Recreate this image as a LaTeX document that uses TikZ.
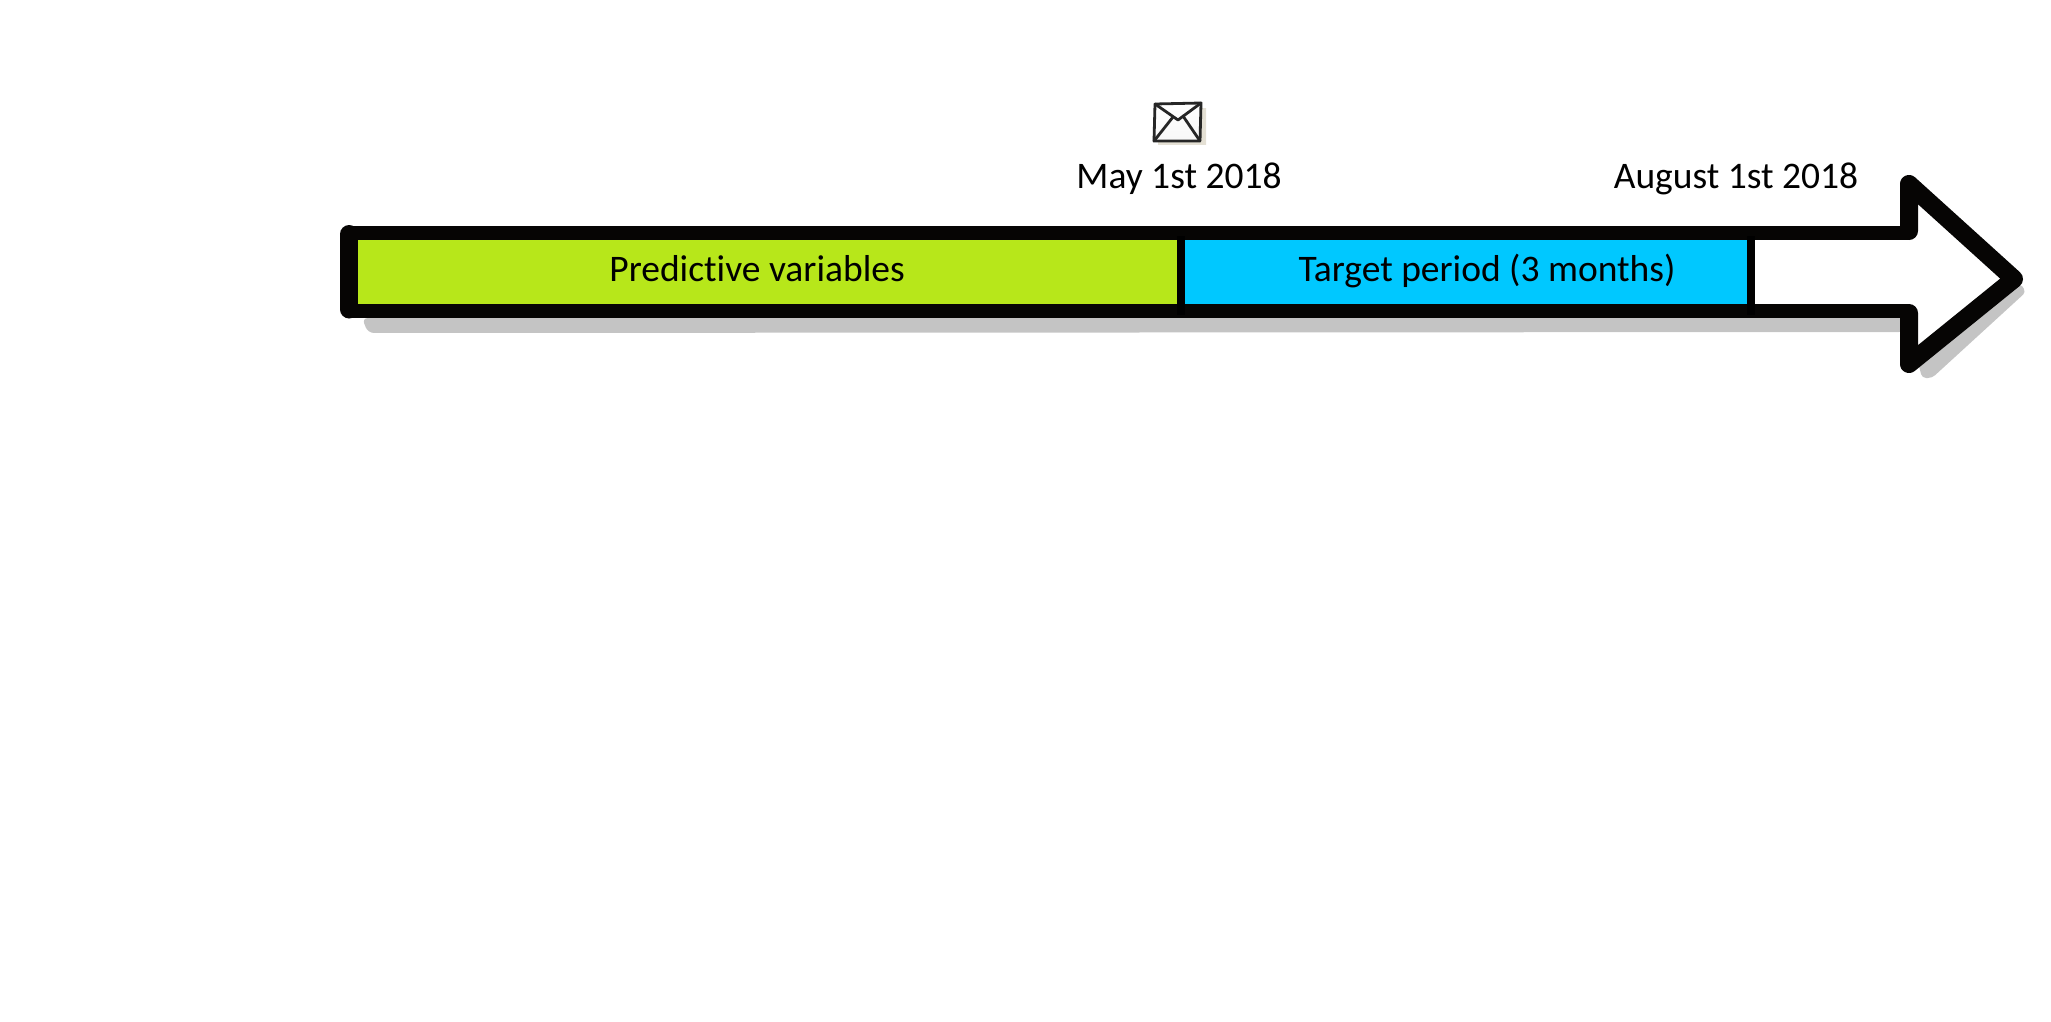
\documentclass[tikz,border=0pt]{standalone}
\usepackage{fontspec}
\setmainfont[Ligatures=NoCommon]{Carlito}
\definecolor{greenfill}{HTML}{B7E71A}
\definecolor{bluefill}{HTML}{00C8FF}
\definecolor{envshadow}{HTML}{E4E0D4}
\definecolor{outline}{HTML}{060504}
\tikzset{
  x=1pt,y=-1pt,
  lbl/.style={inner sep=0pt,anchor=base,text=black,font=\fontsize{37.5}{42}\selectfont},
  shadowcol/.style={fill=black!23,draw=none},
  envline/.style={draw=black!85,line width=2.8pt,line join=round,line cap=round},
  shaftline/.style={draw=outline,line width=14.5pt},
  headline/.style={draw=outline,line width=18pt,line join=round,line cap=round},
  divider/.style={draw=black,line width=7.5pt},
}
\begin{document}
\begin{tikzpicture}
\useasboundingbox (0,0) rectangle (2051,1022);
% shadow
\fill[shadowcol,rounded corners=6pt] (362,318) -- (1905,318) -- (1905,332) -- (368,333) -- cycle;
\fill[shadowcol,rounded corners=4pt] (1918,362) -- (2020,283) -- (2026,292) -- (1932,378) -- (1922,378) -- cycle;
% fills
\fill[greenfill] (355,236) rectangle (1181,307);
\fill[bluefill] (1181,236) rectangle (1751,307);
% outline
\coordinate (tl) at (349.5,232.8);
\coordinate (tc) at (1909,232.8);
\coordinate (hc) at (1909,231);
\coordinate (ha) at (1909,184);
\coordinate (tip) at (2014,279);
\coordinate (hb) at (1909,364);
\coordinate (hd) at (1909,313);
\coordinate (bc) at (1909,311);
\coordinate (bl) at (349.5,311);
\coordinate (lt) at (349.3,234);
\coordinate (lb) at (349.3,309.5);
\draw[shaftline] (tl) -- (tc);
\draw[shaftline] (bl) -- (bc);
\draw[headline] (hc) -- (ha) -- (tip) -- (hb) -- (hd);
\draw[headline] (lt) -- (lb);
% dividers
\draw[divider] (1181,236) -- (1181,315);
\draw[divider] (1751,236) -- (1751,315);
% labels
\node[lbl] (pv) at (757,281) {Predictive variables};
\node[lbl] (tp) at (1487,281) {Target period (3 months)};
\node[lbl] (may) at (1179,188) {May 1st 2018};
\node[lbl] (aug) at (1736,188) {August 1st 2018};
% envelope
\fill[envshadow] (1160,110) -- (1206,108) -- (1206,145) -- (1158,145) -- cycle;
\shade[top color=white,bottom color=black!3] (1155,104) -- (1201,103) -- (1200,141) -- (1154,141) -- cycle;
\draw[envline] (1155,104) -- (1201,103) -- (1200,141) -- (1154,141) -- cycle;
\draw[envline] (1155,104) -- (1178,120) -- (1201,103);
\draw[envline] (1154,141) -- (1173,117);
\draw[envline] (1200,141) -- (1183,116);
\end{tikzpicture}
\end{document}
